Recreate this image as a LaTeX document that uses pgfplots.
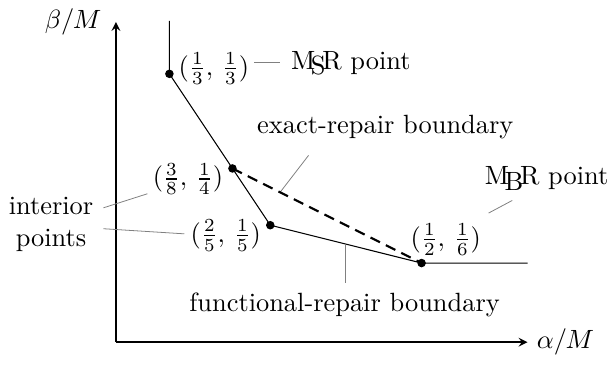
\documentclass[border=0pt]{standalone}
\usepackage{pgfplots}
\pgfplotsset{compat=1.18}

\newcommand{\lowlogo}[3]{#1\kern-.1667em\lower.5ex\hbox{#2}\kern-.125em #3}

\begin{document}
\begin{tikzpicture}
\begin{axis}[
    x=573.4pt, y=430.2pt,
    xmin=0.298, xmax=0.57,
    ymin=0.097, ymax=0.379,
    axis lines=left,
    xtick=\empty, ytick=\empty,
    clip=false,
    axis line style={black, line width=0.5pt},
]
% leader lines
\addplot[gray, line width=0.3pt] coordinates {(0.3895,0.3430) (0.4067,0.3430)};
\addplot[gray, line width=0.3pt] coordinates {(0.4253,0.2615) (0.4062,0.2285)};
\addplot[gray, line width=0.3pt] coordinates {(0.2897,0.2153) (0.3188,0.2277)};
\addplot[gray, line width=0.3pt] coordinates {(0.2897,0.1969) (0.3432,0.1924)};
\addplot[gray, line width=0.3pt] coordinates {(0.5599,0.2218) (0.5443,0.2107)};
\addplot[gray, line width=0.3pt] coordinates {(0.4496,0.1822) (0.4496,0.1493)};

% functional-repair boundary
\addplot[black, line width=0.4pt] coordinates {
    (0.333333,0.38) (0.333333,0.333333) (0.375,0.25) (0.4,0.2) (0.5,0.166667) (0.57,0.166667)
};
% exact-repair boundary
\addplot[black, line width=0.8pt, dash pattern=on 4pt off 2.5pt] coordinates {(0.375,0.25) (0.5,0.166667)};
% corner points
\addplot[black, only marks, mark=*, mark size=1.4pt] coordinates {
    (0.333333,0.333333) (0.375,0.25) (0.4,0.2) (0.5,0.166667)
};

\node[anchor=west, yshift=2pt] at (axis cs:0.333333,0.333333) {$(\frac13,\,\frac13)$};
\node[anchor=east, yshift=-4pt] at (axis cs:0.375,0.25) {$(\frac38,\,\frac14)$};
\node[anchor=east, yshift=-4pt] at (axis cs:0.4,0.2) {$(\frac25,\,\frac15)$};
\node at (axis cs:0.5160,0.1872) {$(\frac12,\,\frac16)$};

\node[anchor=base west] at (axis cs:0.4076,0.3375) {\lowlogo{M}{S}{R} point};
\node[anchor=base west, inner xsep=1pt] at (axis cs:0.5397,0.2356) {\lowlogo{M}{B}{R} point};
\node[anchor=base] at (axis cs:0.4760,0.2811) {exact-repair boundary};
\node[anchor=base] at (axis cs:0.4491,0.1241) {functional-repair boundary};
\node[align=center] at (axis cs:0.2551,0.2006) {interior\\points};

\node[anchor=east, xshift=-2pt] at (axis cs:0.298,0.379) {$\beta/M$};
\node[anchor=west] at (axis cs:0.57,0.097) {$\alpha/M$};
\end{axis}
\end{tikzpicture}
\end{document}
